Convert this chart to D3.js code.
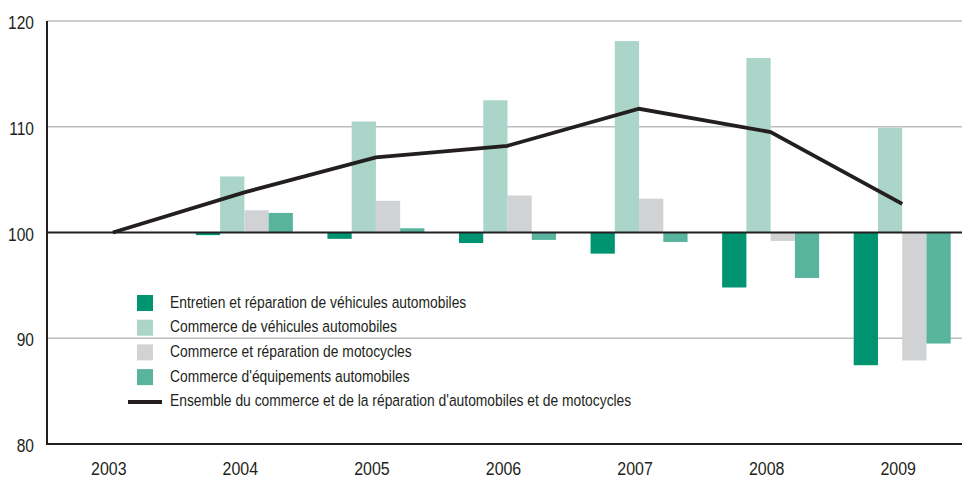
<!DOCTYPE html>
<html>
<head>
<meta charset="utf-8">
<script src="https://cdn.jsdelivr.net/npm/d3@7"></script>
<style>
  body { margin: 0; background: #fff; }
  svg text { font-family: "Liberation Sans", Arial, sans-serif; fill: #231f20; }
</style>
</head>
<body>
<svg id="chart" width="962" height="480"></svg>
<script>
const years = ["2003", "2004", "2005", "2006", "2007", "2008", "2009"];
const seriesNames = [
  "Entretien et réparation de véhicules automobiles",
  "Commerce de véhicules automobiles",
  "Commerce et réparation de motocycles",
  "Commerce d'équipements automobiles"
];
const entretien = [100, 99.75, 99.4, 99.0, 98.0, 94.8, 87.45];
const commerceVehicules = [100, 105.3, 110.5, 112.5, 118.1, 116.5, 109.9];
const motocycles = [100, 102.1, 103.0, 103.5, 103.2, 99.2, 87.9];
const equipements = [100, 101.85, 100.4, 99.3, 99.1, 95.7, 89.5];
const ensembleName = "Ensemble du commerce et de la réparation d'automobiles et de motocycles";
const ensemble = [100, 103.8, 107.1, 108.2, 111.7, 109.5, 102.7];
const yTicks = [80, 90, 100, 110, 120];

const colors = ["#009470", "#acd5c9", "#d1d2d4", "#58b49d"];
const seriesValues = [entretien, commerceVehicules, motocycles, equipements];

// no condensed font installed, so squeeze Liberation Sans horizontally
const condense = 0.84;
const place = (sel, fx, fy) => sel
  .attr("transform", (d, i) => `translate(${fx(d, i)},${fy(d, i)}) scale(${condense},1)`);

const svg = d3.select("#chart");

const x = d3.scaleBand().domain(years).range([47, 968]);
const y = d3.scaleLinear().domain([80, 120]).range([444, 21]);
const groupW = 97;
const xs = d3.scaleBand().domain(d3.range(4))
  .range([x.bandwidth() / 2 - groupW / 2, x.bandwidth() / 2 + groupW / 2]);

// gridlines
svg.append("g")
  .selectAll("line")
  .data(yTicks.filter(t => t !== 80 && t !== 100))
  .join("line")
  .attr("x1", 47).attr("x2", 962)
  .attr("y1", d => y(d)).attr("y2", d => y(d))
  .attr("stroke", "#bcbdbf").attr("stroke-width", 1.5);

// y labels
svg.append("g")
  .selectAll("text")
  .data(yTicks)
  .join("text")
  .attr("text-anchor", "end")
  .attr("font-size", 18.5)
  .text(d => d)
  .call(place, () => 34, d => y(d) + 8);

// bars
const rows = [];
seriesValues.forEach((vals, s) => {
  vals.forEach((v, i) => rows.push({ s, year: years[i], v }));
});

svg.append("g")
  .selectAll("rect")
  .data(rows.filter(r => r.v !== 100))
  .join("rect")
  .attr("x", d => x(d.year) + xs(d.s))
  .attr("width", xs.bandwidth())
  .attr("y", d => y(Math.max(d.v, 100)))
  .attr("height", d => Math.abs(y(d.v) - y(100)))
  .attr("fill", d => colors[d.s]);

// 100 baseline
svg.append("line")
  .attr("x1", 47).attr("x2", 962)
  .attr("y1", y(100)).attr("y2", y(100))
  .attr("stroke", "#231f20").attr("stroke-width", 1.8);

// axes
svg.append("line")
  .attr("x1", 47).attr("x2", 47)
  .attr("y1", y(120)).attr("y2", y(80) + 1)
  .attr("stroke", "#231f20").attr("stroke-width", 2);
svg.append("line")
  .attr("x1", 46).attr("x2", 962)
  .attr("y1", y(80)).attr("y2", y(80))
  .attr("stroke", "#231f20").attr("stroke-width", 2);

// year labels
svg.append("g")
  .selectAll("text")
  .data(years)
  .join("text")
  .attr("text-anchor", "middle")
  .attr("font-size", 19)
  .text(d => d)
  .call(place, d => x(d) + x.bandwidth() / 2 - 4, () => 475);

// line
const line = d3.line()
  .x((d, i) => x(years[i]) + x.bandwidth() / 2)
  .y(d => y(d));

svg.append("path")
  .attr("d", line(ensemble))
  .attr("fill", "none")
  .attr("stroke", "#231f20")
  .attr("stroke-width", 3.8);

// legend
const legend = svg.append("g");
legend.selectAll("rect")
  .data(seriesNames)
  .join("rect")
  .attr("x", 137).attr("y", (d, i) => 295 + i * 24.7)
  .attr("width", 16).attr("height", 16)
  .attr("fill", (d, i) => colors[i]);
legend.append("line")
  .attr("x1", 128).attr("x2", 162)
  .attr("y1", 402).attr("y2", 402)
  .attr("stroke", "#231f20").attr("stroke-width", 4);
legend.selectAll("text")
  .data(seriesNames.concat([ensembleName]))
  .join("text")
  .attr("font-size", 16.5)
  .attr("fill", "#3b3a3a")
  .text(d => d)
  .call(place, () => 170, (d, i) => 307.5 + i * 24.7);
</script>
</body>
</html>
